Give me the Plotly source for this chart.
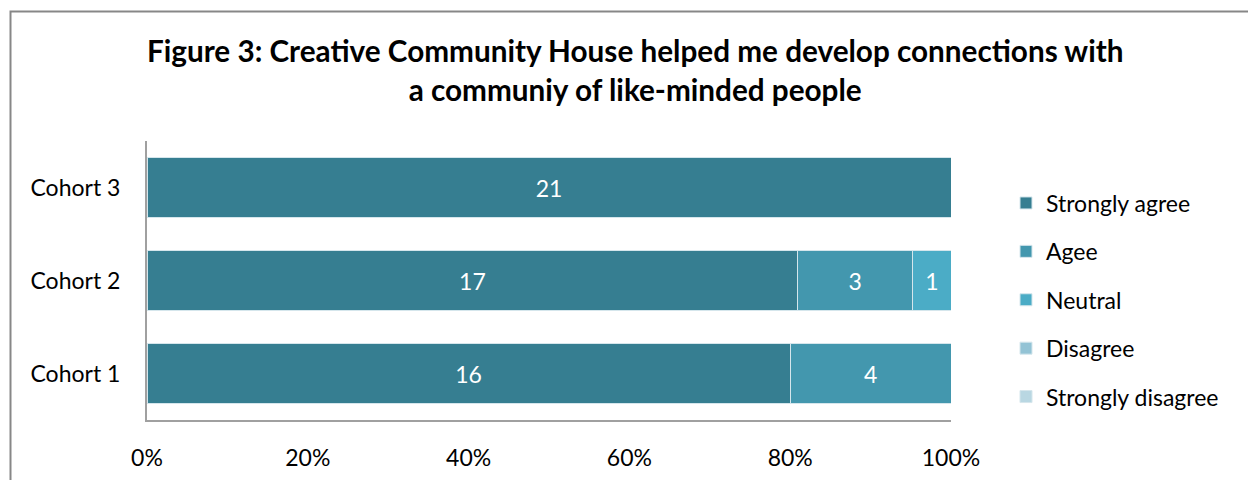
import plotly.graph_objects as go

cohorts = ["Cohort 1", "Cohort 2", "Cohort 3"]
series_names = ["Strongly agree", "Agee", "Neutral", "Disagree", "Strongly disagree"]
strongly_agree = [16, 17, 21]
agree = [4, 3, 0]
neutral = [0, 1, 0]
disagree = [0, 0, 0]
strongly_disagree = [0, 0, 0]
series_values = [strongly_agree, agree, neutral, disagree, strongly_disagree]
colors = ["#367E91", "#4397AE", "#4BACC6", "#93C3D5", "#B9D7E2"]
x_tick_vals = [0, 20, 40, 60, 80, 100]
x_tick_text = ["0%", "20%", "40%", "60%", "80%", "100%"]
title_text = ("<b>Figure 3: Creative Community House helped me develop connections with"
              "<br>a communiy of like-minded people</b>")

FONT = "Lato"
W, H = 1248, 480
L, R, T, B = 147, 297, 141, 60
pw = W - L - R
ph = H - T - B

fig = go.Figure()
for name, vals, col in zip(series_names, series_values, colors):
    fig.add_trace(go.Bar(
        name=name, y=cohorts, x=vals, orientation="h",
        marker=dict(color=col, line=dict(color="#D5E6EC", width=1)),
        text=[str(v) if v else "" for v in vals],
        textposition="inside", insidetextanchor="middle",
        textfont=dict(color="white", size=23, family=FONT),
        legendgroup=name,
    ))

# outer chart border (extends beyond page on right/bottom)
fig.add_shape(type="rect", xref="paper", yref="paper",
              x0=(10.5 - L) / pw, x1=(W + 20 - L) / pw,
              y0=-(H + 20 - T - ph) / ph, y1=(H - 11.5 - B) / ph,
              line=dict(color="#878787", width=2), fillcolor="rgba(0,0,0,0)", layer="below")

fig.update_layout(
    width=W, height=H,
    margin=dict(l=L, r=R, t=T, b=B, autoexpand=False),
    barmode="stack", barnorm="percent", bargap=0.365,
    paper_bgcolor="white", plot_bgcolor="white",
    font=dict(family=FONT, size=23, color="black"),
    title=dict(text=title_text, x=0.509, xref="container", xanchor="center",
               y=1 - 62 / H, yref="container", yanchor="middle",
               font=dict(family=FONT, size=29.7, color="black")),
    showlegend=True,
    legend=dict(x=(1006 - L) / pw, xanchor="left", y=(H - B - 300) / ph, yanchor="middle",
                font=dict(family=FONT, size=23, color="black"),
                traceorder="grouped", tracegroupgap=15.5,
                itemwidth=30, bgcolor="rgba(0,0,0,0)"),
    uniformtext=dict(mode="show", minsize=10),
)
fig.update_xaxes(range=[0, 100], tickvals=x_tick_vals, ticktext=x_tick_text,
                 showgrid=False, zeroline=False, showline=True, automargin=False,
                 linecolor="#A0A0A0", linewidth=2, ticks="", ticklen=0,
                 ticklabelstandoff=16,
                 tickfont=dict(family=FONT, size=23, color="black"))
fig.update_yaxes(range=[-0.5, 2.5], showgrid=False, zeroline=False, showline=True,
                 automargin=False,
                 linecolor="#A0A0A0", linewidth=2, ticks="",
                 ticklabelstandoff=20,
                 tickfont=dict(family=FONT, size=23, color="black"))

fig.write_html("out.html")
